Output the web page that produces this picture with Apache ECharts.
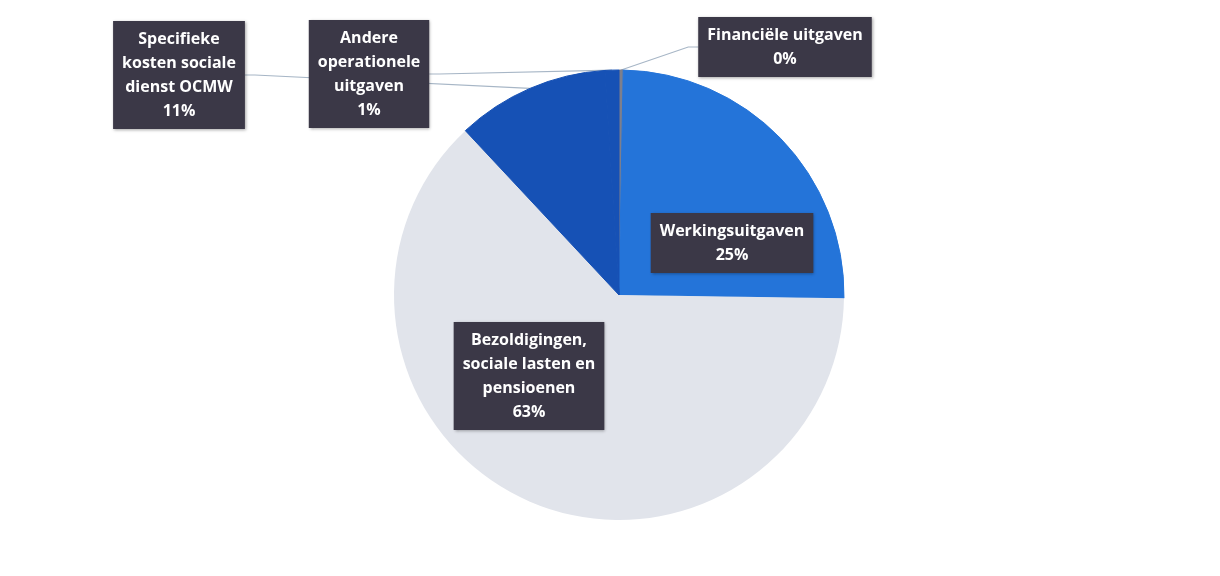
<!DOCTYPE html>
<html>
<head>
<meta charset="utf-8">
<script src="https://cdn.jsdelivr.net/npm/echarts@6/dist/echarts.min.js"></script>
<style>
  html, body { margin: 0; padding: 0; background: #ffffff; }
  #chart { width: 1220px; height: 576px; }
</style>
</head>
<body>
<div id="chart"></div>
<script>
// slice names, clockwise from 12 o'clock
var categories = [
  "Financiële uitgaven",
  "Werkingsuitgaven",
  "Bezoldigingen,\nsociale lasten en\npensioenen",
  "Specifieke\nkosten sociale\ndienst OCMW",
  "Andere\noperationele\nuitgaven"
];
// share in percent
var shares = [0.3, 25, 63, 11, 1];

var sliceColors = ["#7d7f8c", "#2474d9", "#e1e4eb", "#1651b5", "#1651b5"];
// centre of each label box
var labelCenters = [[785, 47], [732, 243], [529, 376], [179, 75], [369, 74]];
var insideLabel = [false, true, true, false, false];

var chart = echarts.init(document.getElementById("chart"));

var pieData = categories.map(function (name, i) {
  return {
    name: name,
    value: shares[i],
    // thin border of the same colour hides the seams between slices
    itemStyle: { color: sliceColors[i], borderColor: sliceColors[i], borderWidth: i === 2 ? 0 : 1 },
    label: { position: insideLabel[i] ? "inside" : "outside" },
    labelLine: { show: !insideLabel[i] }
  };
});

chart.setOption({
  backgroundColor: "#ffffff",
  animation: false,
  series: [
    {
      type: "pie",
      center: [619, 295],
      radius: 225,
      startAngle: 90,
      clockwise: true,
      avoidLabelOverlap: false,
      data: pieData,
      label: {
        show: true,
        formatter: function (p) {
          return p.name + "\n" + Math.round(p.value) + "%";
        },
        color: "#ffffff",
        fontFamily: "Open Sans",
        fontWeight: "bold",
        fontSize: 16,
        lineHeight: 24,
        align: "center",
        backgroundColor: "#3b3847",
        padding: [6, 9],
        shadowColor: "rgba(0,0,0,0.35)",
        shadowBlur: 3,
        shadowOffsetX: 1,
        shadowOffsetY: 1
      },
      labelLine: {
        show: true,
        length: 10,
        length2: 10,
        lineStyle: { color: "#a7b6c6", width: 1.2 }
      },
      labelLayout: function (params) {
        var c = labelCenters[params.dataIndex];
        return { x: c[0], y: c[1], align: "center", verticalAlign: "middle" };
      }
    }
  ]
});
</script>
</body>
</html>
